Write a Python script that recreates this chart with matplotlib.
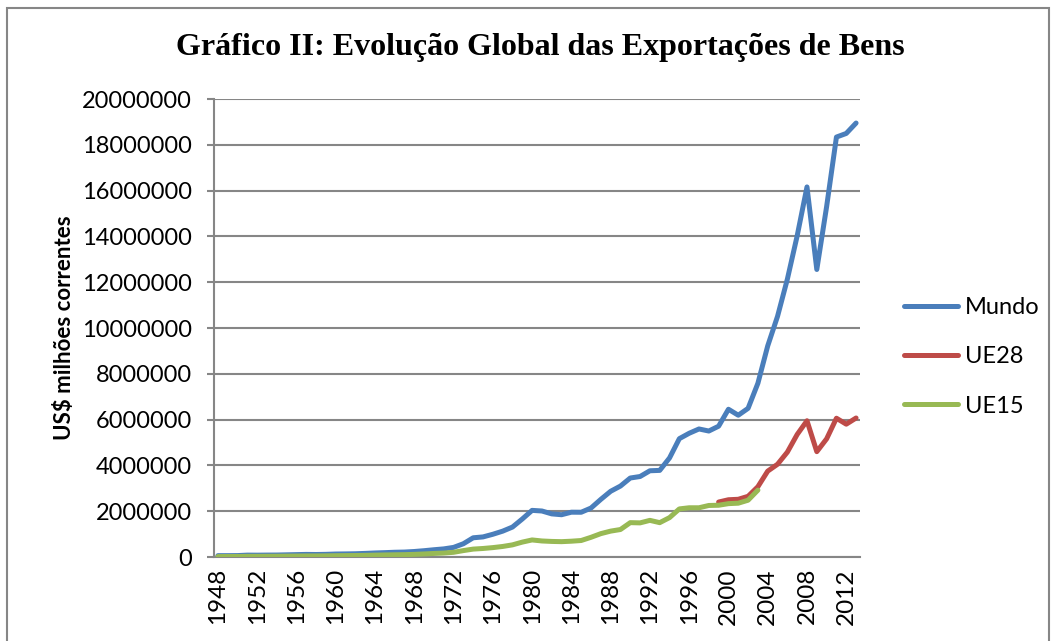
import matplotlib
matplotlib.use("Agg")
import matplotlib.pyplot as plt
from matplotlib.patches import Rectangle
from matplotlib.ticker import FuncFormatter, MultipleLocator

# exports of goods, US$ millions (current)
years = list(range(1948, 2014))
mundo = [59000, 59000, 62000, 82000, 80000, 84000, 86000, 95000, 104000, 113000,
         109000, 116000, 130000, 135000, 142000, 157000, 176000, 190000, 207000, 216000,
         240000, 275000, 317000, 354000, 419000, 579000, 839000, 877000, 992000, 1128000,
         1307000, 1659000, 2036000, 2009000, 1883000, 1846000, 1956000, 1954000, 2138000, 2516000,
         2869000, 3098000, 3449000, 3515000, 3766000, 3782000, 4326000, 5168000, 5403000, 5591000,
         5501000, 5712000, 6452000, 6191000, 6492000, 7586000, 9218000, 10509000, 12131000, 14023000,
         16160000, 12555000, 15301000, 18338000, 18496000, 18950000]

ue28_years = list(range(1999, 2014))
ue28 = [2400000, 2500000, 2520000, 2650000, 3070000, 3750000, 4050000, 4580000, 5350000, 5950000,
        4600000, 5160000, 6060000, 5800000, 6070000]

ue15_years = list(range(1948, 2004))
ue15 = [20000, 21000, 23000, 30000, 30000, 32000, 34000, 38000, 42000, 46000,
        46000, 50000, 57000, 61000, 65000, 72000, 82000, 90000, 97000, 103000,
        115000, 133000, 155000, 172000, 205000, 280000, 345000, 372000, 410000, 460000,
        530000, 650000, 745000, 700000, 680000, 670000, 690000, 720000, 860000, 1020000,
        1130000, 1200000, 1500000, 1490000, 1600000, 1500000, 1720000, 2100000, 2150000, 2150000,
        2250000, 2260000, 2330000, 2350000, 2480000, 2920000]

x_ticks = list(range(1948, 2014, 4))

title = "Gráfico II: Evolução Global das Exportações de Bens"
y_label = "US$ milhões correntes"

fig = plt.figure(figsize=(10.56, 6.41), dpi=100)
ax = fig.add_axes([214 / 1056, 1 - 557 / 641, (860 - 214) / 1056, (557 - 99) / 641])

lw = 3.6
ax.plot(years, mundo, color="#4A7EBB", linewidth=lw, label="Mundo", solid_capstyle="round", zorder=3)
ax.plot(ue28_years, ue28, color="#BE4B48", linewidth=lw, label="UE28", solid_capstyle="round", zorder=4)
ax.plot(ue15_years, ue15, color="#98B954", linewidth=lw, label="UE15", solid_capstyle="round", zorder=5)

ax.set_xlim(1947.6, 2013.4)
ax.set_ylim(0, 20000000)
ax.yaxis.set_major_locator(MultipleLocator(2000000))
ax.yaxis.set_major_formatter(FuncFormatter(lambda v, p: f"{int(v)}"))
ax.set_xticks(x_ticks)
ax.set_xticklabels([str(y) for y in x_ticks], rotation=90, fontfamily="Lato", fontsize=17.5)
for lab in ax.get_yticklabels():
    lab.set_fontfamily("Lato")
    lab.set_fontsize(17)

ax.grid(axis="y", color="#868686", linewidth=1.5)
ax.set_axisbelow(True)
for s in ["top", "right"]:
    ax.spines[s].set_visible(False)
ax.spines["left"].set_color("#868686")
ax.spines["bottom"].set_color("#868686")
ax.spines["left"].set_linewidth(1.5)
ax.spines["bottom"].set_linewidth(1.5)
ax.tick_params(axis="y", length=5, color="#868686", width=1.5, pad=11)
ax.tick_params(axis="x", length=0, pad=8)

ax.set_ylabel(y_label, fontfamily="Lato", fontweight="bold", fontsize=16, labelpad=5)

fig.text(540 / 1056, 1 - 47 / 641, title, ha="center", va="center",
         fontfamily="Liberation Serif", fontweight="bold", fontsize=23)

leg = ax.legend(loc="center left", bbox_to_anchor=(1.035, 0.437), frameon=False,
                prop={"family": "Lato", "size": 17}, handlelength=2.3,
                handletextpad=0.3, labelspacing=1.2)

fig.patches.append(Rectangle((7 / 1056, -0.1), (1049 - 7) / 1056, 1.1 - 8 / 641,
                             transform=fig.transFigure, fill=False,
                             edgecolor="#868686", linewidth=1.5))

fig.savefig("out.png", dpi=100)
